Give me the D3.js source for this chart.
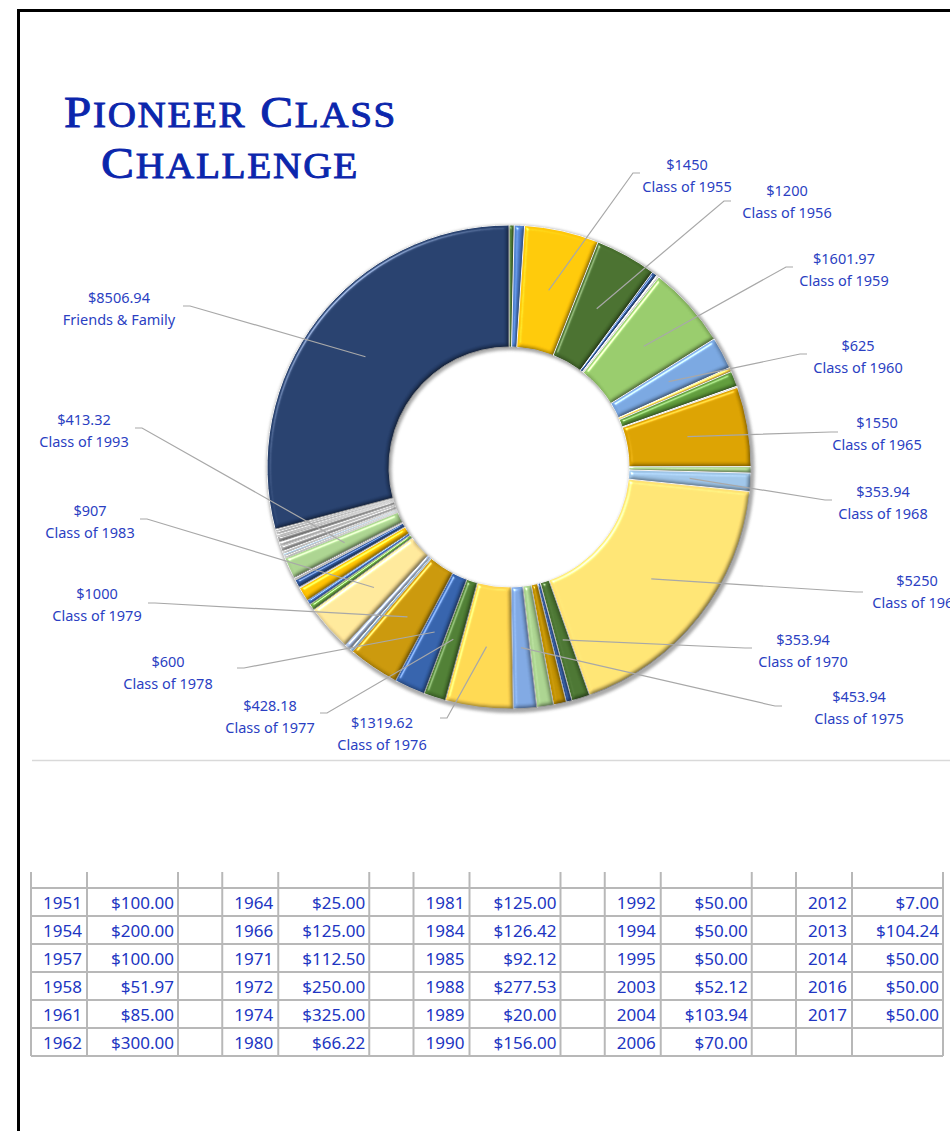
<!DOCTYPE html>
<html><head><meta charset="utf-8">
<script src="https://cdn.jsdelivr.net/npm/d3@7"></script>
<style>body{margin:0;background:#fff}svg{display:block}</style>
</head><body>
<svg id="c" width="950" height="1131"></svg>
<script>
// ---------- DATA ----------
const classes = ["1951","1954","1955","1956","1957","1958","1959","1960","1961","1962",
  "1964","1965","1966","1968","1969","1970","1971","1972","1974","1975",
  "1976","1977","1978","1979","1980","1981","1983","1984","1985","1988",
  "1989","1990","1992","1993","1994","1995","2003","2004","2006","2012",
  "2013","2014","2016","2017","Friends & Family"];
const amounts = [100,200,1450,1200,100,51.97,1601.97,625,85,300,
  25,1550,125,353.94,5250,353.94,112.5,250,325,453.94,
  1319.62,428.18,600,1000,66.22,125,907,126.42,92.12,277.53,
  20,156,50,413.32,50,50,52.12,103.94,70,7,
  104.24,50,50,50,8506.94];
const labeledClasses = ["1955","1956","1959","1960","1965","1968","1969","1970","1975",
  "1976","1977","1978","1979","1983","1993","Friends & Family"];
const titleLines = ["Pioneer Class", "Challenge"];

// ---------- STYLE ----------
const sliceColors = ["#4A7431","#4F81D0","#FFC708","#486F2E","#2F5597","#E4E4E4","#96C96A","#78A5DE","#FFD54F","#5E9A3A",
  "#D0D0D0","#D9A000","#A9D18E","#9DC3E6","#FFE272","#4A7431","#2F5597","#BF8F00","#A9D18E","#7EA6E0",
  "#FFD650","#4E7D33","#3461AA","#C8960A","#9DC3E6","#B4C7E7","#FFE699","#70AD47","#4472C4","#FFC000",
  "#8FAADC","#2F5597","#C0C0C0","#A9D18E","#C9C9C9","#BDD7EE","#D0D0D0","#B4B4B4","#C8C8C8","#BFBFBF",
  "#A0A0A0","#C8C8C8","#B0B0B0","#C0C0C0","#263F6C"];
const labelLayout = {
  "1955":{x:687,y:175,ex:633,ey:173,side:1},
  "1956":{x:787,y:201,ex:724,ey:201,side:1},
  "1959":{x:844,y:269,ex:786,ey:267,side:1},
  "1960":{x:858,y:356,ex:800,ey:354,side:1},
  "1965":{x:877,y:433,ex:831,ey:432,side:1},
  "1968":{x:883,y:502,ex:825,ey:500,side:1},
  "1969":{x:917,y:591,ex:856,ey:592,side:1},
  "1970":{x:803,y:650,ex:745,ey:648,side:1},
  "1975":{x:859,y:707,ex:775,ey:706,side:1},
  "1976":{x:382,y:733,ex:447,ey:718,side:-1},
  "1977":{x:270,y:716,ex:327,ey:713,side:-1},
  "1978":{x:168,y:672,ex:244,ey:668,side:-1},
  "1979":{x:97,y:604,ex:155,ey:603,side:-1},
  "1983":{x:90,y:521,ex:147,ey:519,side:-1},
  "1993":{x:84,y:430,ex:142,ey:428,side:-1},
  "Friends & Family":{x:119,y:308,ex:190,ey:306,side:-1}
};
const labelColor = "#2B3FC2";

const svg = d3.select("#c");
const defs = svg.append("defs");
const f = defs.append("filter").attr("id","bevel").attr("x","-20%").attr("y","-20%")
  .attr("width","140%").attr("height","140%").attr("color-interpolation-filters","sRGB");
f.append("feGaussianBlur").attr("in","SourceAlpha").attr("stdDeviation",2).attr("result","b");
f.append("feDiffuseLighting").attr("in","b").attr("surfaceScale",3).attr("diffuseConstant",1.414)
  .attr("lighting-color","#fff").attr("result","d")
  .append("feDistantLight").attr("azimuth",225).attr("elevation",45);
f.append("feSpecularLighting").attr("in","b").attr("surfaceScale",3).attr("specularConstant",0.55)
  .attr("specularExponent",45).attr("lighting-color","#fff").attr("result","s")
  .append("feDistantLight").attr("azimuth",225).attr("elevation",45);
f.append("feComposite").attr("in","SourceGraphic").attr("in2","d").attr("operator","arithmetic")
  .attr("k1",0.45).attr("k2",0.55).attr("result","lit");
f.append("feComposite").attr("in","s").attr("in2","SourceAlpha").attr("operator","in").attr("result","s2");
f.append("feComposite").attr("in","lit").attr("in2","s2").attr("operator","arithmetic")
  .attr("k2",1).attr("k3",0.9).attr("result","o");
f.append("feComposite").attr("in","o").attr("in2","SourceAlpha").attr("operator","in");

const sh = defs.append("filter").attr("id","shadow").attr("x","-10%").attr("y","-10%").attr("width","120%").attr("height","120%");
sh.append("feGaussianBlur").attr("stdDeviation",1.8);

// frame
svg.append("line").attr("x1",17).attr("x2",950).attr("y1",10.5).attr("y2",10.5).attr("stroke","#000").attr("stroke-width",3);
svg.append("line").attr("x1",18.5).attr("x2",18.5).attr("y1",9).attr("y2",1131).attr("stroke","#000").attr("stroke-width",3);

// title
const tcol = "#0B26AC";
function titleLine(txt, x, y, len){
  const t = svg.append("text").attr("x",x).attr("y",y).attr("fill",tcol)
    .attr("stroke",tcol).attr("stroke-width",0.9)
    .attr("font-family","'Liberation Serif','DejaVu Serif',serif")
    .attr("letter-spacing",1.5)
    .attr("textLength",len).attr("lengthAdjust","spacingAndGlyphs");
  txt.split(" ").forEach((w,i)=>{
    if(i>0) t.append("tspan").attr("font-size",44).text(" ");
    t.append("tspan").attr("font-size",44).text(w[0].toUpperCase());
    t.append("tspan").attr("font-size",35).text(w.slice(1).toUpperCase());
  });
  return t;
}
titleLine(titleLines[0],64,127,333);
titleLine(titleLines[1],101,178,258);

// donut
const cx = 509, cy = 467, R = 242, r0 = 120;
const data = classes.map((c,i)=>({cls:c, amount:amounts[i], color:sliceColors[i]}));
const pie = d3.pie().sort(null).value(d=>d.amount).startAngle(0).endAngle(2*Math.PI);
const arc = d3.arc().innerRadius(r0).outerRadius(R);
const g = svg.append("g").attr("transform",`translate(${cx},${cy})`);
const ringArc = d3.arc().innerRadius(r0-1).outerRadius(R+2).startAngle(0).endAngle(2*Math.PI);
g.append("path").attr("d",ringArc()).attr("fill","#8c8c8c").attr("transform","translate(1.5,2)").attr("filter","url(#shadow)").attr("opacity",0.75);
const arcs = pie(data);
g.selectAll("path.s").data(arcs).join("path").attr("class","s")
  .attr("d",arc).attr("fill",d=>d.data.color)
  .attr("stroke","#f4f4f4").attr("stroke-width",1)
  .attr("filter","url(#bevel)");

// labels + leader lines
const lab = svg.append("g");
arcs.filter(d=>labeledClasses.includes(d.data.cls)).forEach(d=>{
  const L = labelLayout[d.data.cls];
  const c = arc.centroid(d);
  const p0 = [cx+c[0], cy+c[1]];
  const p2 = [L.ex + 7*L.side, L.ey];
  lab.append("polyline").attr("points",[p0,[L.ex,L.ey],p2].map(p=>p.join(",")).join(" "))
    .attr("fill","none").attr("stroke","#a8a8a8").attr("stroke-width",1.2);
  const t = lab.append("text").attr("text-anchor","middle").attr("fill",labelColor)
    .attr("font-family","'Noto Sans',sans-serif").attr("font-size",14.5);
  t.append("tspan").attr("x",L.x).attr("y",L.y-11).attr("dominant-baseline","central")
    .text("$"+d.data.amount);
  t.append("tspan").attr("x",L.x).attr("y",L.y+11).attr("dominant-baseline","central")
    .text(d.data.cls==="Friends & Family" ? d.data.cls : "Class of "+d.data.cls);
});

// separator
svg.append("line").attr("x1",32).attr("x2",950).attr("y1",760.5).attr("y2",760.5).attr("stroke","#d9d9d9").attr("stroke-width",1.5);

// table
const tableRows = data.filter(d=>d.cls!=="Friends & Family" && !labeledClasses.includes(d.cls));
const perCol = 6, groupStep = 191.25, x0 = 31, yearW = 56, valW = 91;
const nGroups = Math.ceil(tableRows.length/perCol);
const headTop = 872, rowTop = 888, rowH = 28;
const tg = svg.append("g");
const gridCol = "#b8b8b8";
const yBottom = rowTop + rowH*perCol;
for(let r=0;r<=perCol;r++){
  tg.append("line").attr("x1",x0).attr("x2",x0+groupStep*(nGroups-1)+yearW+valW)
    .attr("y1",rowTop+rowH*r).attr("y2",rowTop+rowH*r).attr("stroke",gridCol).attr("stroke-width",2);
}
for(let k=0;k<nGroups;k++){
  const gx = x0+groupStep*k;
  const xs = [gx, gx+yearW, gx+yearW+valW];
  xs.forEach(x=>tg.append("line").attr("x1",x).attr("x2",x).attr("y1",headTop).attr("y2",yBottom)
    .attr("stroke",gridCol).attr("stroke-width",2));
  tableRows.slice(k*perCol,(k+1)*perCol).forEach((d,i)=>{
    const y = rowTop+rowH*i+rowH/2;
    tg.append("text").attr("x",gx+yearW-5).attr("y",y).attr("text-anchor","end").attr("dominant-baseline","central")
      .attr("fill","#2035C2").attr("font-family","'Noto Sans',sans-serif").attr("font-size",17).text(d.cls);
    tg.append("text").attr("x",gx+yearW+valW-4).attr("y",y).attr("text-anchor","end").attr("dominant-baseline","central")
      .attr("fill","#2035C2").attr("font-family","'Noto Sans',sans-serif").attr("font-size",17).text(d3.format("$,.2f")(d.amount));
  });
}
</script>
</body></html>
